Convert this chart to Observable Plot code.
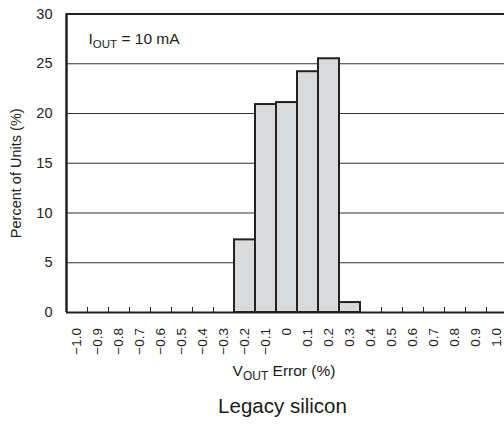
<!DOCTYPE html>
<html>
<head>
<meta charset="utf-8">
<script src="https://cdn.jsdelivr.net/npm/d3@7"></script>
<script src="https://cdn.jsdelivr.net/npm/@observablehq/plot@0.6"></script>
<style>
  html, body { margin: 0; padding: 0; background: #fff; overflow: hidden; }
  body { width: 504px; height: 424px; position: relative; font-family: Arial, "Liberation Sans", Helvetica, sans-serif; color: #1a1a1a; }
  #chart svg { display: block; }
  .cap { position: absolute; left: 0; text-align: center; white-space: nowrap; }
  #xlabel { top: 362px; width: 568px; font-size: 15.5px; }
  #xlabel sub { font-size: 12px; vertical-align: -4px; line-height: 0; }
  #title { top: 394px; width: 565px; font-size: 20.5px; }
</style>
</head>
<body>
<div id="chart"></div>
<div id="xlabel" class="cap">V<sub>OUT</sub> Error (%)</div>
<div id="title" class="cap">Legacy silicon</div>
<script>
// Data
const errorBins = [-0.2, -0.1, 0.0, 0.1, 0.2, 0.3];     // V_OUT error bin centers (%)
const percentUnits = [7.3, 20.9, 21.1, 24.2, 25.5, 1.0]; // percent of units
const binWidth = 0.1;

const xTickValues = [-1.0, -0.9, -0.8, -0.7, -0.6, -0.5, -0.4, -0.3, -0.2, -0.1, 0, 0.1, 0.2, 0.3, 0.4, 0.5, 0.6, 0.7, 0.8, 0.9, 1.0];
const xTickLabels = ["−1.0", "−0.9", "−0.8", "−0.7", "−0.6", "−0.5", "−0.4", "−0.3", "−0.2", "−0.1", "0", "0.1", "0.2", "0.3", "0.4", "0.5", "0.6", "0.7", "0.8", "0.9", "1.0"];
const yTickValues = [0, 5, 10, 15, 20, 25, 30];
const yGridValues = [5, 10, 15, 20, 25];
const yLabel = "Percent of Units (%)";
const noteMain = "I";
const noteSub = "OUT";
const noteRest = " = 10 mA";

const bars = errorBins.map((x, i) => ({x, y: percentUnits[i]}));
const xDomain = [xTickValues[0] - binWidth / 2, xTickValues[xTickValues.length - 1] + binWidth / 2];
const binEdges = xTickValues.map(v => v - binWidth / 2);
const labelOf = d => {
  const i = xTickValues.findIndex(v => Math.abs(v - d) < 1e-9);
  return i >= 0 ? xTickLabels[i] : "";
};

const ink = "#222";
const chart = Plot.plot({
  width: 504,
  height: 362,
  marginLeft: 66,
  marginRight: -3,
  marginTop: 13.5,
  marginBottom: 50,
  x: {domain: xDomain},
  y: {domain: [0, 30]},
  style: {fontFamily: 'Arial, "Liberation Sans", Helvetica, sans-serif', fontSize: "14px", color: ink, background: "#fff", overflow: "visible"},
  marks: [
    Plot.ruleY(yGridValues, {stroke: "#333", strokeWidth: 1}),
    Plot.rectY(bars, {x1: d => d.x - binWidth / 2, x2: d => d.x + binWidth / 2, y: "y", fill: "#d9dadb", stroke: ink, strokeWidth: 2}),
    Plot.ruleY([0], {stroke: ink, strokeWidth: 2}),
    Plot.ruleY([30], {stroke: ink, strokeWidth: 2}),
    Plot.ruleX([xDomain[0], xDomain[1]], {stroke: ink, strokeWidth: 2.5}),
    Plot.axisX({ticks: binEdges, tickSize: -5, tickFormat: () => "", label: null, stroke: ink, strokeWidth: 1}),
    Plot.axisX({ticks: xTickValues, tickFormat: labelOf, tickSize: 0, tickPadding: 15.5, tickRotate: -90, label: null, fontSize: 13.5, fill: ink}),
    Plot.axisY({ticks: yTickValues, tickSize: 0, tickPadding: 14, label: null, fontSize: 14.5, fill: ink}),
    Plot.text([yLabel], {text: d => d, frameAnchor: "left", rotate: -90, dx: -56, dy: 10, lineAnchor: "top", textAnchor: "middle", fontSize: 14.5, fill: ink}),
    Plot.text([noteMain], {text: d => d, frameAnchor: "top-left", dx: 22, dy: 29.5, lineAnchor: "bottom", textAnchor: "start", fontSize: 15.5, fill: ink, className: "note"})
  ]
});
document.getElementById("chart").appendChild(chart);

// add the subscript as real SVG text spans
const note = chart.querySelector(".note text") || chart.querySelector("g.note text");
if (note) {
  const ns = "http://www.w3.org/2000/svg";
  note.textContent = "";
  const t1 = document.createElementNS(ns, "tspan"); t1.textContent = noteMain;
  const t2 = document.createElementNS(ns, "tspan"); t2.textContent = noteSub; t2.setAttribute("dy", "4"); t2.setAttribute("font-size", "11.5");
  const t3 = document.createElementNS(ns, "tspan"); t3.textContent = noteRest; t3.setAttribute("dy", "-4");
  note.append(t1, t2, t3);
}
</script>
</body>
</html>
